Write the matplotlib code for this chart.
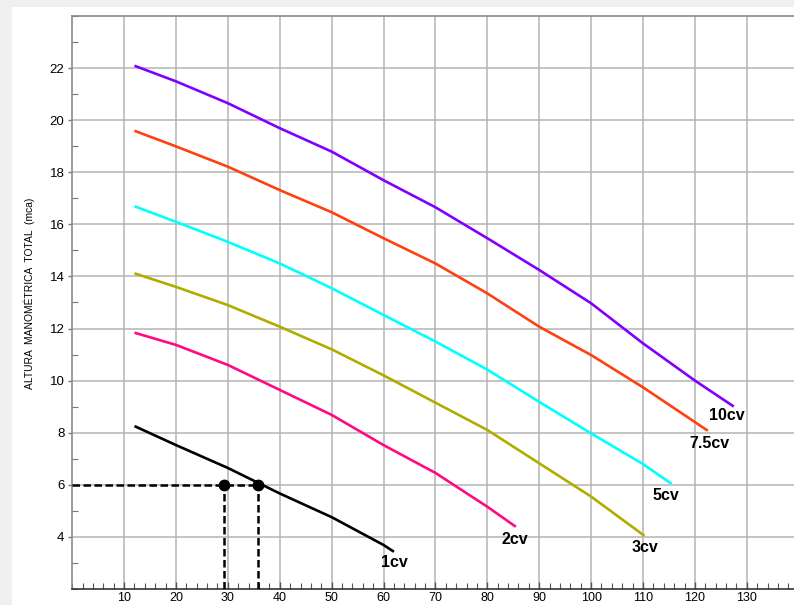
import matplotlib
matplotlib.use("Agg")
import matplotlib.pyplot as plt
from matplotlib.patches import Rectangle
from matplotlib.ticker import MultipleLocator

# Pump performance curves: flow (x) vs. total manometric head (mca)
flow_1cv = [12, 20, 30, 40, 50, 60, 62]
head_1cv = [8.25, 7.52, 6.64, 5.66, 4.75, 3.68, 3.42]

flow_2cv = [12, 20, 30, 40, 50, 60, 70, 80, 85.5]
head_2cv = [11.84, 11.37, 10.6, 9.64, 8.68, 7.52, 6.45, 5.15, 4.38]

flow_3cv = [12, 20, 30, 40, 50, 60, 70, 80, 90, 100, 110.3]
head_3cv = [14.12, 13.6, 12.9, 12.07, 11.2, 10.2, 9.15, 8.1, 6.82, 5.54, 4.03]

flow_5cv = [12, 20, 30, 40, 50, 60, 70, 80, 90, 100, 110, 115.5]
head_5cv = [16.7, 16.1, 15.33, 14.5, 13.55, 12.52, 11.5, 10.42, 9.18, 7.97, 6.79, 6.03]

flow_75cv = [12, 20, 30, 40, 50, 60, 70, 80, 90, 100, 110, 122.5]
head_75cv = [19.6, 19.0, 18.22, 17.32, 16.47, 15.47, 14.5, 13.35, 12.07, 10.98, 9.74, 8.07]

flow_10cv = [12, 20, 30, 40, 50, 60, 70, 80, 90, 100, 110, 120, 127.5]
head_10cv = [22.1, 21.5, 20.66, 19.7, 18.8, 17.7, 16.66, 15.47, 14.25, 12.97, 11.43, 10.0, 9.0]

labels = ["1cv", "2cv", "3cv", "5cv", "7.5cv", "10cv"]
colors = ["#000000", "#ff0a82", "#b0ac00", "#00ffff", "#ff4010", "#8000ff"]
flows = [flow_1cv, flow_2cv, flow_3cv, flow_5cv, flow_75cv, flow_10cv]
heads = [head_1cv, head_2cv, head_3cv, head_5cv, head_75cv, head_10cv]
label_pos = [(62.0, 2.99), (85.3, 3.91), (110.3, 3.6), (114.5, 5.6), (122.9, 7.59), (126.2, 8.64)]

# Operating point read-off
req_head = 6
req_flows = [29.2, 35.9]

xticks = [10, 20, 30, 40, 50, 60, 70, 80, 90, 100, 110, 120, 130]
yticks = [4, 6, 8, 10, 12, 14, 16, 18, 20, 22]

plt.rcParams["font.family"] = ["Liberation Sans", "DejaVu Sans"]

W, H = 794, 605
fig = plt.figure(figsize=(W / 100, H / 100), dpi=100, facecolor="#f0f0f0")
fig.patches.append(Rectangle((12 / W, 0), 1 - 12 / W, 1 - 7 / H,
                             transform=fig.transFigure, facecolor="white",
                             edgecolor="none", zorder=-10))

ax_l, ax_r, ax_t, ax_b = 72.2, 794, 16.3, 588.7
ax = fig.add_axes([ax_l / W, (H - ax_b) / H, (ax_r - ax_l) / W, (ax_b - ax_t) / H])
ax.set_zorder(1)
ax.set_facecolor("white")
ax.set_xlim(0, 139.1)
ax.set_ylim(2, 24)

ax.set_xticks(xticks)
ax.set_yticks(yticks)
ax.xaxis.set_minor_locator(MultipleLocator(2))
ax.yaxis.set_minor_locator(MultipleLocator(1))
ax.grid(True, which="major", color="#b4b4b4", linewidth=1.1, zorder=1)
ax.set_axisbelow(True)

ax.tick_params(axis="x", which="major", direction="in", length=5, width=1,
               color="#555555", labelsize=9, pad=2.2)
ax.tick_params(axis="x", which="minor", direction="in", length=4, width=0.8,
               color="#555555")
ax.tick_params(axis="y", which="major", direction="out", length=3, width=1,
               color="#777777", labelsize=9.5, pad=2.5)
ax.tick_params(axis="y", which="minor", direction="in", length=4, width=0.8,
               color="#777777")

ax.spines["right"].set_visible(False)
ax.spines["top"].set_color("#8a8a8a")
ax.spines["left"].set_color("#8a8a8a")
ax.spines["bottom"].set_color("#333333")
for s in ("top", "left", "bottom"):
    ax.spines[s].set_linewidth(1.2)

for fx, hy, c in zip(flows, heads, colors):
    ax.plot(fx, hy, color=c, linewidth=1.9, solid_capstyle="butt",
            solid_joinstyle="round", zorder=3)

for lab, (lx, ly) in zip(labels, label_pos):
    ax.text(lx, ly, lab, ha="center", va="center", fontsize=11.5,
            fontweight="bold", color="black", zorder=4)

# Dashed guide lines to the operating points
ax.plot([0, max(req_flows)], [req_head, req_head], color="black", linewidth=1.8,
        dashes=(3.0, 1.4), zorder=4)
for qf in req_flows:
    ax.plot([qf, qf], [2, req_head], color="black", linewidth=1.8,
            dashes=(3.0, 1.4), zorder=4)
ax.plot(req_flows, [req_head] * len(req_flows), "o", color="black",
        markersize=7.5, zorder=5)

fig.text(29.3 / W, (H - 293.5) / H, "ALTURA  MANOMÉTRICA  TOTAL  (mca)",
         rotation=90, ha="center", va="center", fontsize=7.4, color="black")

fig.savefig("out.png", dpi=100, facecolor=fig.get_facecolor())
